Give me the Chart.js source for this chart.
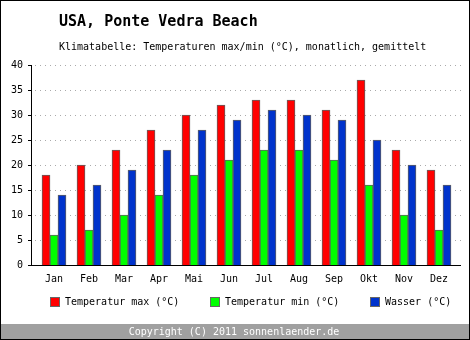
<!DOCTYPE html>
<html>
<head>
<meta charset="utf-8">
<script src="https://cdn.jsdelivr.net/npm/chart.js@4/dist/chart.umd.min.js"></script>
<style>
  html, body { margin: 0; padding: 0; background: #fff; }
  #wrap { position: relative; width: 470px; height: 340px; }
  canvas { display: block; }
</style>
</head>
<body>
<div id="wrap"><canvas id="c" width="470" height="340"></canvas></div>
<script>
// Monthly climate values for Ponte Vedra Beach (°C)
const months = ['Jan', 'Feb', 'Mar', 'Apr', 'Mai', 'Jun', 'Jul', 'Aug', 'Sep', 'Okt', 'Nov', 'Dez'];
const tempMax = [18, 20, 23, 27, 30, 32, 33, 33, 31, 37, 23, 19];
const tempMin = [6, 7, 10, 14, 18, 21, 23, 23, 21, 16, 10, 7];
const water   = [14, 16, 19, 23, 27, 29, 31, 30, 29, 25, 20, 16];
const yTicks  = [0, 5, 10, 15, 20, 25, 30, 35, 40];

const seriesNames = ['Temperatur max (°C)', 'Temperatur min (°C)', 'Wasser (°C)'];
const seriesColors = ['#ff0000', '#00ff00', '#0033cc'];

const FONT = '"DejaVu Sans Mono", "Liberation Mono", monospace';

const toPoints = arr => arr.map((v, i) => ({ x: i, y: v }));

// Frame, titles, dotted grid, axis lines, legend and footer
const decor = {
  id: 'decor',
  beforeDraw(chart) {
    const ctx = chart.ctx;
    const ys = chart.scales.y;
    const left = 32, right = 461;
    ctx.save();
    ctx.fillStyle = '#ffffff';
    ctx.fillRect(0, 0, 470, 340);

    // title + subtitle
    ctx.fillStyle = '#000';
    ctx.textBaseline = 'middle';
    ctx.textAlign = 'left';
    ctx.font = 'bold 15px ' + FONT;
    ctx.fillText('USA, Ponte Vedra Beach', 59, 22);
    ctx.font = '10px ' + FONT;
    ctx.fillText('Klimatabelle: Temperaturen max/min (°C), monatlich, gemittelt', 59, 47);

    // dotted grid lines and left tick marks
    ctx.lineWidth = 1;
    yTicks.forEach(v => {
      const y = Math.round(ys.getPixelForValue(v)) + 0.5;
      if (v !== 0) {
        ctx.strokeStyle = '#aaaaaa';
        ctx.setLineDash([1, 4]);
        ctx.beginPath();
        ctx.moveTo(left + 3, y);
        ctx.lineTo(right, y);
        ctx.stroke();
      }
      ctx.setLineDash([]);
      ctx.strokeStyle = '#000';
      ctx.beginPath();
      ctx.moveTo(left - 4, y);
      ctx.lineTo(left, y);
      ctx.stroke();
    });

    // legend
    ctx.font = '10px ' + FONT;
    ctx.textBaseline = 'middle';
    const legendX = [50, 210, 370];
    seriesNames.forEach((name, i) => {
      ctx.fillStyle = seriesColors[i];
      ctx.fillRect(legendX[i], 297, 10, 10);
      ctx.strokeStyle = '#666';
      ctx.lineWidth = 1;
      ctx.strokeRect(legendX[i] + 0.5, 297.5, 9, 9);
      ctx.fillStyle = '#000';
      ctx.fillText(name, legendX[i] + 15, 302);
    });

    // footer band
    ctx.fillStyle = '#a0a0a0';
    ctx.fillRect(0, 324, 470, 16);
    ctx.fillStyle = '#ffffff';
    ctx.textAlign = 'center';
    ctx.fillText('Copyright (C) 2011 sonnenlaender.de', 234, 332);
    ctx.restore();
  },
  afterDatasetsDraw(chart) {
    const ctx = chart.ctx;
    const ys = chart.scales.y;
    ctx.save();
    ctx.strokeStyle = '#000';
    ctx.lineWidth = 1;
    const y0 = Math.round(ys.getPixelForValue(0)) + 0.5;
    ctx.beginPath();
    ctx.moveTo(32, y0);
    ctx.lineTo(461, y0);
    ctx.stroke();
    ctx.beginPath();
    ctx.moveTo(31.5, Math.round(ys.getPixelForValue(40)));
    ctx.lineTo(31.5, y0);
    ctx.stroke();
    // outer frame
    ctx.strokeRect(0.5, 0.5, 469, 339);
    ctx.restore();
  }
};

new Chart(document.getElementById('c'), {
  type: 'bar',
  data: {
    datasets: [
      { label: seriesNames[0], data: toPoints(tempMax), backgroundColor: seriesColors[0] },
      { label: seriesNames[1], data: toPoints(tempMin), backgroundColor: seriesColors[1] },
      { label: seriesNames[2], data: toPoints(water),   backgroundColor: seriesColors[2] }
    ].map(d => Object.assign(d, {
      borderColor: '#606060',
      borderWidth: 1,
      borderSkipped: 'bottom',
      barThickness: 8
    }))
  },
  options: {
    responsive: false,
    animation: false,
    layout: { padding: { top: 65, right: 9, bottom: 0, left: 0 } },
    plugins: { legend: { display: false }, tooltip: { enabled: false }, title: { display: false } },
    scales: {
      x: {
        type: 'linear',
        min: -22 / 35,
        max: -22 / 35 + 429 / 35,
        offset: false,
        grid: { display: false, drawTicks: false },
        border: { display: false },
        afterBuildTicks: s => { s.ticks = months.map((m, i) => ({ value: i })); },
        ticks: {
          autoSkip: false,
          maxRotation: 0,
          padding: 8,
          color: '#000',
          font: { family: FONT, size: 10 },
          callback: v => months[v] ?? ''
        },
        afterFit: s => { s.height = 75; }
      },
      y: {
        min: 0,
        max: 40,
        grid: { display: false, drawTicks: false },
        border: { display: false },
        afterBuildTicks: s => { s.ticks = yTicks.map(v => ({ value: v })); },
        ticks: {
          padding: 9,
          color: '#000',
          font: { family: FONT, size: 10 }
        },
        afterFit: s => { s.width = 32; }
      }
    }
  },
  plugins: [decor]
});
</script>
</body>
</html>
